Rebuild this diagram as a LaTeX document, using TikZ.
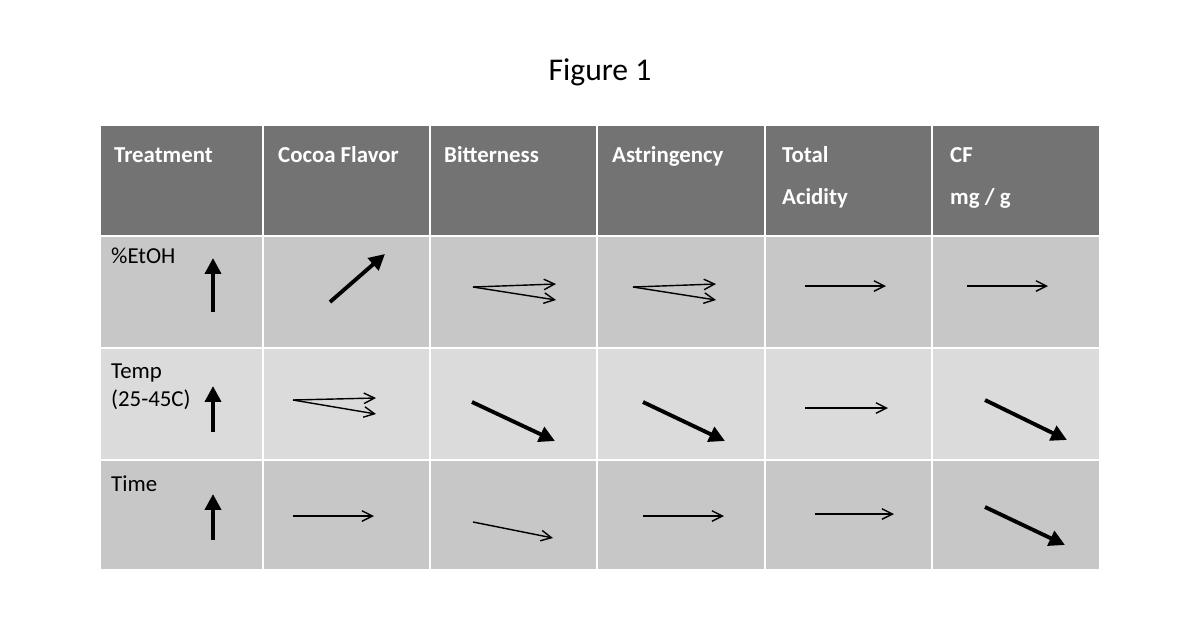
\documentclass[tikz,border=0pt]{standalone}
\usepackage{fontspec}
\setmainfont{Carlito}
\usetikzlibrary{arrows.meta}
\begin{document}
\begin{tikzpicture}[x=0.02cm,y=-0.02cm,
  hdr/.style={fill=black!55,draw=white,line width=1.5pt},
  cell/.style={fill=black!22,draw=white,line width=1.5pt},
  cell2/.style={fill=black!14,draw=white,line width=1.5pt},
  ht/.style={anchor=base west,text=white,font=\fontsize{13}{24}\selectfont\bfseries},
  rt/.style={anchor=north west,font=\fontsize{13}{16}\selectfont,align=left},
  thinf/.style={-{Straight Barb[length=6pt,width=6pt]},line width=0.8pt},
  thick/.style={-{Triangle[length=9pt,width=9pt]},line width=2.2pt}]
\useasboundingbox (0,0) rectangle (1200,630);
\node[font=\fontsize{18}{20}\selectfont] (title) at (600,72) {Figure 1};
\foreach \a/\b [count=\i] in {100/263,263/430,430/597,597/765,765/932,932/1100}{
  \draw[hdr] (\a,125) rectangle (\b,236);
  \draw[cell] (\a,236) rectangle (\b,348);
  \draw[cell2] (\a,348) rectangle (\b,460);
  \draw[cell] (\a,460) rectangle (\b,570);
}
\node[ht] (h1) at (108,162) {Treatment};
\node[ht] (h2) at (272,162) {Cocoa Flavor};
\node[ht] (h3) at (438,162) {Bitterness};
\node[ht] (h4) at (606,162) {Astringency};
\node[ht] (h5) at (776,162) {Total};
\node[ht] (h5b) at (776,204) {Acidity};
\node[ht] (h6) at (944,162) {CF};
\node[ht] (h6b) at (944,204) {mg / g};
\node[rt] (r1) at (105,242) {\%EtOH};
\node[rt] (r2) at (105,358) {Temp\\(25-45C)};
\node[rt] (r3) at (105,470) {Time};
% row 1
\coordinate (a1) at (213,312); \coordinate (b1) at (213,258); \draw[thick] (a1)--(b1);
\coordinate (a2) at (330,302); \coordinate (b2) at (385,254); \draw[thick] (a2)--(b2);
\coordinate (a3) at (473,287); \coordinate (b3) at (556,284); \coordinate (c3) at (556,300);
\draw[thinf] (a3)--(b3); \draw[thinf] (a3)--(c3);
\coordinate (a4) at (633,287); \coordinate (b4) at (716,284); \coordinate (c4) at (716,300);
\draw[thinf] (a4)--(b4); \draw[thinf] (a4)--(c4);
\coordinate (a5) at (805,286); \coordinate (b5) at (886,286); \draw[thinf] (a5)--(b5);
\coordinate (a6) at (967,286); \coordinate (b6) at (1048,286); \draw[thinf] (a6)--(b6);
% row 2
\coordinate (d1) at (213,432); \coordinate (e1) at (213,386); \draw[thick] (d1)--(e1);
\coordinate (d2) at (293,400); \coordinate (e2) at (376,398); \coordinate (f2) at (376,414);
\draw[thinf] (d2)--(e2); \draw[thinf] (d2)--(f2);
\coordinate (d3) at (472,402); \coordinate (e3) at (555,441); \draw[thick] (d3)--(e3);
\coordinate (d4) at (643,402); \coordinate (e4) at (725,441); \draw[thick] (d4)--(e4);
\coordinate (d5) at (805,408); \coordinate (e5) at (888,408); \draw[thinf] (d5)--(e5);
\coordinate (d6) at (985,400); \coordinate (e6) at (1067,440); \draw[thick] (d6)--(e6);
% row 3
\coordinate (g1) at (213,540); \coordinate (h1c) at (213,494); \draw[thick] (g1)--(h1c);
\coordinate (g2) at (293,516); \coordinate (h2c) at (374,516); \draw[thinf] (g2)--(h2c);
\coordinate (g3) at (473,522); \coordinate (h3c) at (553,538); \draw[thinf] (g3)--(h3c);
\coordinate (g4) at (643,516); \coordinate (h4c) at (724,516); \draw[thinf] (g4)--(h4c);
\coordinate (g5) at (815,514); \coordinate (h5c) at (894,514); \draw[thinf] (g5)--(h5c);
\coordinate (g6) at (985,507); \coordinate (h6c) at (1065,545); \draw[thick] (g6)--(h6c);
\end{tikzpicture}
\end{document}
